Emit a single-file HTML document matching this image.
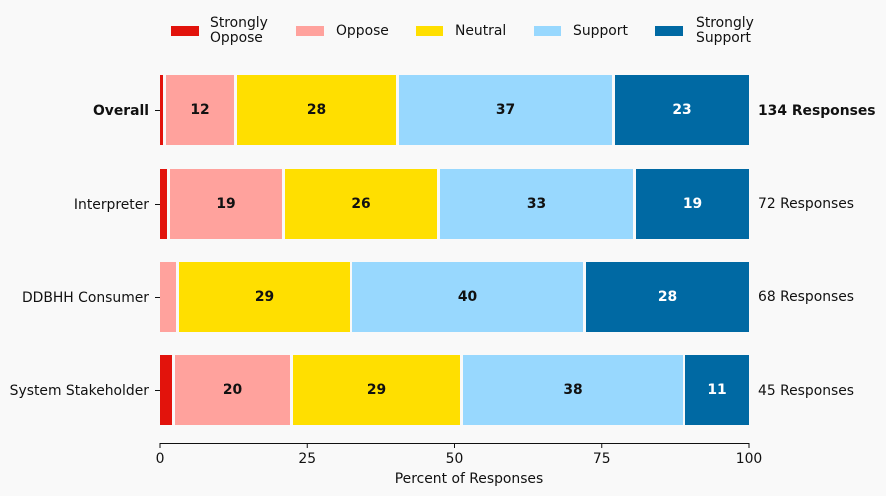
<!DOCTYPE html>
<html>
<head>
<meta charset="utf-8">
<style>
html,body{margin:0;padding:0;background:#f9f9f9;}
svg{display:block;}
text{font-family:"DejaVu Sans","Liberation Sans",sans-serif;font-size:13.9px;fill:#111;}
.b{font-weight:bold;}
.w{fill:#fff;}
</style>
</head>
<body>
<svg width="886" height="496" viewBox="0 0 886 496" xmlns="http://www.w3.org/2000/svg">
<rect x="0" y="0" width="886" height="496" fill="#f9f9f9"/>

<!-- Legend -->
<rect x="171" y="26" width="28" height="10" fill="#e2130c"/>
<text x="210" y="23" dominant-baseline="central">Strongly</text>
<text x="210" y="38" dominant-baseline="central">Oppose</text>
<rect x="296" y="26" width="28" height="10" fill="#ffa29d"/>
<text x="336" y="31" dominant-baseline="central">Oppose</text>
<rect x="416" y="26" width="27" height="10" fill="#ffdf00"/>
<text x="455" y="31" dominant-baseline="central">Neutral</text>
<rect x="534" y="26" width="27" height="10" fill="#98d8fe"/>
<text x="573" y="31" dominant-baseline="central">Support</text>
<rect x="655" y="26" width="28" height="10" fill="#0069a3"/>
<text x="696" y="23" dominant-baseline="central">Strongly</text>
<text x="696" y="38" dominant-baseline="central">Support</text>

<!-- Overall -->
<rect x="160" y="75" width="3" height="70" fill="#e2130c"/>
<rect x="166" y="75" width="68" height="70" fill="#ffa29d"/>
<rect x="237" y="75" width="159" height="70" fill="#ffdf00"/>
<rect x="399" y="75" width="213" height="70" fill="#98d8fe"/>
<rect x="615" y="75" width="134" height="70" fill="#0069a3"/>
<text class="b" x="200" y="110" text-anchor="middle" dominant-baseline="central">12</text>
<text class="b" x="316.5" y="110" text-anchor="middle" dominant-baseline="central">28</text>
<text class="b" x="505.5" y="110" text-anchor="middle" dominant-baseline="central">37</text>
<text class="b w" x="682" y="110" text-anchor="middle" dominant-baseline="central">23</text>

<!-- Interpreter -->
<rect x="160" y="169" width="7" height="70" fill="#e2130c"/>
<rect x="170" y="169" width="112" height="70" fill="#ffa29d"/>
<rect x="285" y="169" width="152" height="70" fill="#ffdf00"/>
<rect x="440" y="169" width="193" height="70" fill="#98d8fe"/>
<rect x="636" y="169" width="113" height="70" fill="#0069a3"/>
<text class="b" x="226" y="204" text-anchor="middle" dominant-baseline="central">19</text>
<text class="b" x="361" y="204" text-anchor="middle" dominant-baseline="central">26</text>
<text class="b" x="536.5" y="204" text-anchor="middle" dominant-baseline="central">33</text>
<text class="b w" x="692.5" y="204" text-anchor="middle" dominant-baseline="central">19</text>

<!-- DDBHH Consumer -->
<rect x="160" y="262" width="16" height="70" fill="#ffa29d"/>
<rect x="179" y="262" width="171" height="70" fill="#ffdf00"/>
<rect x="352" y="262" width="231" height="70" fill="#98d8fe"/>
<rect x="586" y="262" width="163" height="70" fill="#0069a3"/>
<text class="b" x="264.5" y="297" text-anchor="middle" dominant-baseline="central">29</text>
<text class="b" x="467.5" y="297" text-anchor="middle" dominant-baseline="central">40</text>
<text class="b w" x="667.5" y="297" text-anchor="middle" dominant-baseline="central">28</text>

<!-- System Stakeholder -->
<rect x="160" y="355" width="12" height="70" fill="#e2130c"/>
<rect x="175" y="355" width="115" height="70" fill="#ffa29d"/>
<rect x="293" y="355" width="167" height="70" fill="#ffdf00"/>
<rect x="463" y="355" width="220" height="70" fill="#98d8fe"/>
<rect x="685" y="355" width="64" height="70" fill="#0069a3"/>
<text class="b" x="232.5" y="390" text-anchor="middle" dominant-baseline="central">20</text>
<text class="b" x="376.5" y="390" text-anchor="middle" dominant-baseline="central">29</text>
<text class="b" x="573" y="390" text-anchor="middle" dominant-baseline="central">38</text>
<text class="b w" x="717" y="390" text-anchor="middle" dominant-baseline="central">11</text>

<!-- Y ticks and labels -->
<g stroke="#111" stroke-width="1">
<line x1="155" y1="110.5" x2="160" y2="110.5"/>
<line x1="155" y1="204.5" x2="160" y2="204.5"/>
<line x1="155" y1="297.5" x2="160" y2="297.5"/>
<line x1="155" y1="390.5" x2="160" y2="390.5"/>
</g>
<text class="b" x="149" y="111" text-anchor="end" dominant-baseline="central">Overall</text>
<text x="149" y="205" text-anchor="end" dominant-baseline="central">Interpreter</text>
<text x="149" y="298" text-anchor="end" dominant-baseline="central">DDBHH Consumer</text>
<text x="149" y="391" text-anchor="end" dominant-baseline="central">System Stakeholder</text>

<!-- Right labels -->
<text class="b" x="758" y="111" dominant-baseline="central">134 Responses</text>
<text x="758" y="204" dominant-baseline="central">72 Responses</text>
<text x="758" y="297" dominant-baseline="central">68 Responses</text>
<text x="758" y="391" dominant-baseline="central">45 Responses</text>

<!-- X axis -->
<g stroke="#111" stroke-width="1">
<line x1="159.5" y1="443.5" x2="749.5" y2="443.5"/>
<line x1="160" y1="443" x2="160" y2="448"/>
<line x1="307.25" y1="443" x2="307.25" y2="448"/>
<line x1="454.5" y1="443" x2="454.5" y2="448"/>
<line x1="601.75" y1="443" x2="601.75" y2="448"/>
<line x1="749" y1="443" x2="749" y2="448"/>
</g>
<text x="160" y="459" text-anchor="middle" dominant-baseline="central">0</text>
<text x="307.25" y="459" text-anchor="middle" dominant-baseline="central">25</text>
<text x="454.5" y="459" text-anchor="middle" dominant-baseline="central">50</text>
<text x="601.75" y="459" text-anchor="middle" dominant-baseline="central">75</text>
<text x="749" y="459" text-anchor="middle" dominant-baseline="central">100</text>
<text x="469" y="479" text-anchor="middle" dominant-baseline="central">Percent of Responses</text>
</svg>
</body>
</html>
